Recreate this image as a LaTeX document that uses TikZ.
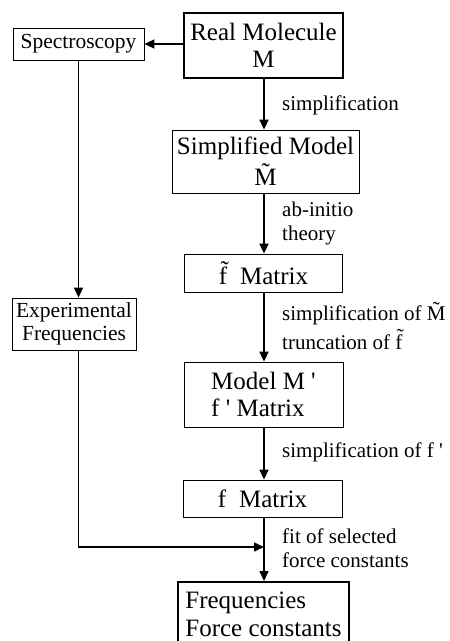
\documentclass[tikz,border=0pt]{standalone}
\usepackage{fontspec}
\setmainfont{Liberation Serif}
\usetikzlibrary{arrows.meta}
\newcommand{\qs}{\textquotesingle}
\begin{document}
\begin{tikzpicture}[x=1pt,y=-1pt,
  box/.style={draw, line width=0.8pt, inner sep=0pt, align=center,
    font=\fontsize{25}{27}\selectfont},
  thickbox/.style={box, line width=2.2pt},
  smallbox/.style={box, font=\fontsize{21.5}{23}\selectfont},
  lbl/.style={anchor=base west, inner sep=0pt, align=left,
    font=\fontsize{21}{23.5}\selectfont},
  arr/.style={line width=1.6pt, -{Triangle[length=10pt,width=9pt]}}]
\useasboundingbox (0,0) rectangle (450,641);
% boxes
\node[thickbox, minimum width=159, minimum height=65] (real) at (263.5,45.5) {Real Molecule\\M};
\node[smallbox, minimum width=131, minimum height=32] (spec) at (78.5,44) {Spectroscopy};
\node[box, minimum width=187, minimum height=63] (simp) at (265.5,161.5) {Simplified Model\\[3pt]\~{M}};
\node[box, minimum width=158, minimum height=38] (ft) at (263.5,273) {\~{f}\hspace{13pt}Matrix};
\node[smallbox, minimum width=124, minimum height=52] (exp) at (74,324) {Experimental\\Frequencies};
\node[box, align=left, minimum width=159, minimum height=65] (model) at (263.5,394.5) {Model M \qs\\f \qs\ Matrix};
\node[box, minimum width=159, minimum height=37] (fm) at (262.5,498.5) {f\hspace{13pt}Matrix};
\node[thickbox, align=left, anchor=north, minimum width=171, minimum height=64, font=\fontsize{25}{28}\selectfont] (freq) at (263.5,581) {Frequencies\\Force constants};
% labels
\node[lbl] (l1) at (282,110) {simplification};
\node[lbl] (l2) at (282,240) {ab-initio\\theory};
\node[lbl] (l3) at (282,349) {simplification of \~{M}\\[4pt]truncation of \~{f}};
\node[lbl] (l4) at (282,457) {simplification of f \qs};
\node[lbl] (l5) at (282,567) {fit of selected\\force constants};
% connectors
\coordinate (join) at (264,547);
\draw[arr] (real.west |- spec.east) -- (spec.east);
\draw[arr] (real.south -| join) -- (simp.north -| join);
\draw[arr] (simp.south -| join) -- (ft.north -| join);
\draw[arr] (ft.south -| join) -- (model.north -| join);
\draw[arr] (model.south -| join) -- (fm.north -| join);
\draw[arr] (fm.south -| join) -- (freq.north -| join);
\draw[arr] (spec.south) -- (spec.south |- exp.north);
\draw[arr] (spec.south |- exp.south) |- (join);
\end{tikzpicture}
\end{document}
